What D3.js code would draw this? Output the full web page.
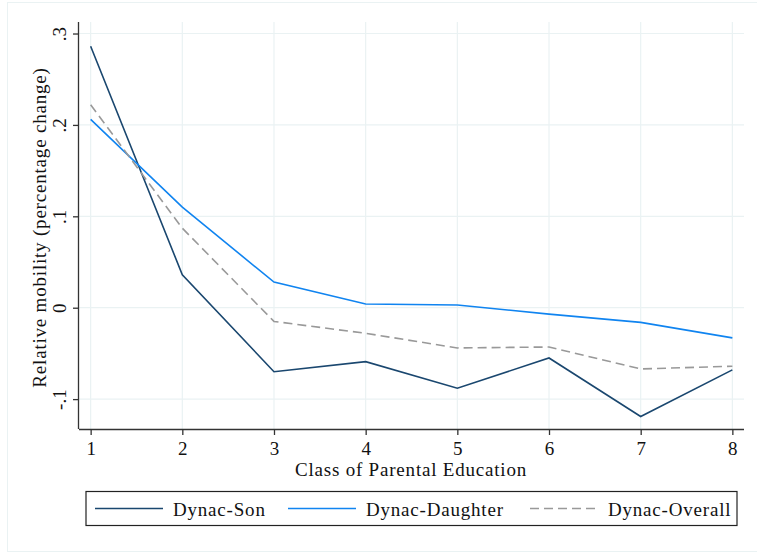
<!DOCTYPE html>
<html><head><meta charset="utf-8">
<script src="https://cdn.jsdelivr.net/npm/d3@7"></script>
<style>body{margin:0;background:#fff}svg{display:block}</style>
</head><body>
<script>
const categories = [1,2,3,4,5,6,7,8];
const son      = [0.286, 0.036, -0.070, -0.059, -0.088, -0.055, -0.119, -0.068];
const daughter = [0.206, 0.110, 0.028, 0.004, 0.003, -0.007, -0.016, -0.033];
const overall  = [0.222, 0.087, -0.015, -0.028, -0.044, -0.043, -0.067, -0.064];
const yTicks = [-0.1, 0, 0.1, 0.2, 0.3];
const yTickLabels = ["-.1", "0", ".1", ".2", ".3"];
const seriesNames = ["Dynac-Son", "Dynac-Daughter", "Dynac-Overall"];

const W = 757, H = 552;
const FONT = "'Liberation Serif', 'DejaVu Serif', serif";
const FS = 19, LS = 0.8;
const svg = d3.select("body").append("svg").attr("width", W).attr("height", H);

svg.append("rect").attr("x", 7.5).attr("y", 2.5).attr("width", 750).attr("height", 549)
  .attr("fill", "#fff").attr("stroke", "#eaf2f3").attr("stroke-width", 1);

const L = 79, R = 744, T = 22, B = 429;
const x = d3.scaleLinear().domain([0.873, 8.127]).range([L, R]);
const y = d3.scaleLinear().domain([-0.1327, 0.3126]).range([B, T]);

// grid
svg.append("g").selectAll("line").data(categories).join("line")
  .attr("x1", d => x(d)).attr("x2", d => x(d)).attr("y1", T).attr("y2", B)
  .attr("stroke", "#eaf2f3").attr("stroke-width", 1.2);
svg.append("g").selectAll("line").data(yTicks).join("line")
  .attr("x1", L).attr("x2", R).attr("y1", d => y(d)).attr("y2", d => y(d))
  .attr("stroke", "#eaf2f3").attr("stroke-width", 1.2);

// axes
const xAxis = d3.axisBottom(x).tickValues(categories).tickSize(6).tickFormat(d3.format("d"));
const gx = svg.append("g").attr("transform", `translate(0,${B})`).call(xAxis);
gx.select(".domain").attr("d", `M${L},0.5H${R}`).attr("stroke", "#333").attr("stroke-width", 1.3);
gx.selectAll(".tick line").attr("stroke", "#333").attr("stroke-width", 1.3);
gx.selectAll(".tick text").attr("font-family", FONT).attr("font-size", FS).attr("fill", "#111")
  .attr("y", 26).attr("dy", null);

const yAxis = d3.axisLeft(y).tickValues(yTicks).tickSize(6).tickFormat((d, i) => yTickLabels[i]);
const gy = svg.append("g").attr("transform", `translate(${L},0)`).call(yAxis);
gy.select(".domain").attr("d", `M-0.5,${T}V${B}`).attr("stroke", "#333").attr("stroke-width", 1.3);
gy.selectAll(".tick line").attr("stroke", "#333").attr("stroke-width", 1.3);
gy.selectAll(".tick text").attr("font-family", FONT).attr("font-size", FS).attr("fill", "#111")
  .attr("x", null).attr("dy", null).attr("text-anchor", "middle")
  .attr("transform", "translate(-13,0) rotate(-90)");

// titles
svg.append("text").attr("x", 411).attr("y", 476).attr("text-anchor", "middle")
  .attr("font-family", FONT).attr("font-size", FS).attr("letter-spacing", LS).attr("fill", "#111")
  .text("Class of Parental Education");
svg.append("text").attr("transform", `translate(46,${(T + B) / 2 + 2}) rotate(-90)`).attr("text-anchor", "middle")
  .attr("font-family", FONT).attr("font-size", FS).attr("letter-spacing", LS).attr("fill", "#111")
  .text("Relative mobility (percentage change)");

// lines
const series = [
  {name: seriesNames[0], values: son, color: "#1a476f", dash: null},
  {name: seriesNames[1], values: daughter, color: "#1084f0", dash: null},
  {name: seriesNames[2], values: overall, color: "#999999", dash: "9,5"}
];
const line = d3.line().x((d, i) => x(categories[i])).y(d => y(d));
svg.append("g").selectAll("path").data(series).join("path")
  .attr("d", d => line(d.values)).attr("fill", "none")
  .attr("stroke", d => d.color).attr("stroke-width", 1.6)
  .attr("stroke-dasharray", d => d.dash);

// legend
svg.append("rect").attr("x", 86).attr("y", 491.5).attr("width", 651).attr("height", 34)
  .attr("fill", "#fff").attr("stroke", "#222").attr("stroke-width", 1.2);
const legX = [95, 288, 530];
const lg = svg.append("g").selectAll("g").data(series).join("g")
  .attr("transform", (d, i) => `translate(${legX[i]},508.5)`);
lg.append("line").attr("x1", 0).attr("x2", 68).attr("y1", 0).attr("y2", 0)
  .attr("stroke", d => d.color).attr("stroke-width", 1.6).attr("stroke-dasharray", d => d.dash);
lg.append("text").attr("x", 78).attr("y", 7.5).attr("font-family", FONT).attr("font-size", FS)
  .attr("letter-spacing", LS).attr("fill", "#111")
  .text(d => d.name);
</script>
</body></html>
